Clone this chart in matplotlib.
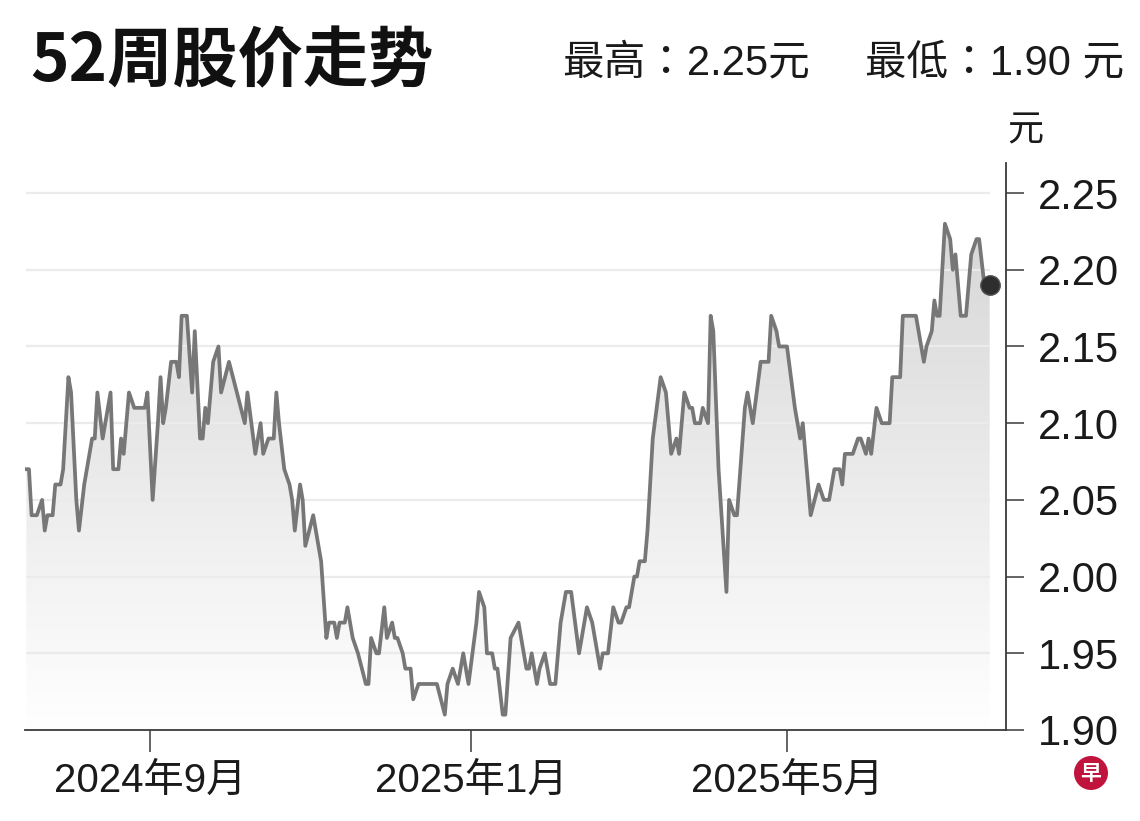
import numpy as np
import pandas as pd
import matplotlib
matplotlib.use("Agg")
import matplotlib.pyplot as plt
import matplotlib.dates as mdates
from matplotlib import font_manager
from matplotlib.colors import LinearSegmentedColormap
from matplotlib.patches import PathPatch, Ellipse

# 52-week closing prices
dates = [
    "2024-07-16", "2024-07-17", "2024-07-18", "2024-07-20", "2024-07-22", "2024-07-23", "2024-07-24", "2024-07-26",
    "2024-07-27", "2024-07-29", "2024-07-30", "2024-08-01", "2024-08-02", "2024-08-04", "2024-08-05", "2024-08-07",
    "2024-08-08", "2024-08-10", "2024-08-11", "2024-08-12", "2024-08-14", "2024-08-15", "2024-08-17", "2024-08-18",
    "2024-08-20", "2024-08-21", "2024-08-22", "2024-08-24", "2024-08-26", "2024-08-30", "2024-08-31", "2024-09-02",
    "2024-09-04", "2024-09-05", "2024-09-06", "2024-09-07", "2024-09-09", "2024-09-11", "2024-09-12", "2024-09-13",
    "2024-09-15", "2024-09-17", "2024-09-18", "2024-09-20", "2024-09-21", "2024-09-22", "2024-09-23", "2024-09-25",
    "2024-09-27", "2024-09-28", "2024-10-01", "2024-10-04", "2024-10-07", "2024-10-08", "2024-10-11", "2024-10-13",
    "2024-10-14", "2024-10-16", "2024-10-18", "2024-10-19", "2024-10-20", "2024-10-22", "2024-10-24", "2024-10-25",
    "2024-10-26", "2024-10-28", "2024-10-29", "2024-10-30", "2024-11-02", "2024-11-04", "2024-11-05", "2024-11-07",
    "2024-11-08", "2024-11-10", "2024-11-11", "2024-11-12", "2024-11-14", "2024-11-15", "2024-11-17", "2024-11-19",
    "2024-11-22", "2024-11-23", "2024-11-24", "2024-11-26", "2024-11-27", "2024-11-29", "2024-11-30", "2024-12-02",
    "2024-12-03", "2024-12-04", "2024-12-06", "2024-12-07", "2024-12-09", "2024-12-10", "2024-12-12", "2024-12-19",
    "2024-12-22", "2024-12-23", "2024-12-25", "2024-12-27", "2024-12-29", "2024-12-31", "2025-01-03", "2025-01-04",
    "2025-01-06", "2025-01-07", "2025-01-09", "2025-01-10", "2025-01-11", "2025-01-13", "2025-01-14", "2025-01-16",
    "2025-01-19", "2025-01-20", "2025-01-22", "2025-01-23", "2025-01-24", "2025-01-26", "2025-01-27", "2025-01-29",
    "2025-01-31", "2025-02-02", "2025-02-04", "2025-02-06", "2025-02-08", "2025-02-11", "2025-02-14", "2025-02-16",
    "2025-02-19", "2025-02-20", "2025-02-22", "2025-02-24", "2025-02-26", "2025-02-27", "2025-03-01", "2025-03-02",
    "2025-03-04", "2025-03-05", "2025-03-06", "2025-03-08", "2025-03-09", "2025-03-11", "2025-03-14", "2025-03-16",
    "2025-03-18", "2025-03-20", "2025-03-21", "2025-03-23", "2025-03-25", "2025-03-26", "2025-03-27", "2025-03-29",
    "2025-03-30", "2025-04-01", "2025-04-02", "2025-04-03", "2025-04-05", "2025-04-08", "2025-04-09", "2025-04-11",
    "2025-04-12", "2025-04-15", "2025-04-16", "2025-04-18", "2025-04-21", "2025-04-24", "2025-04-25", "2025-04-27",
    "2025-04-28", "2025-05-01", "2025-05-04", "2025-05-06", "2025-05-07", "2025-05-10", "2025-05-13", "2025-05-15",
    "2025-05-17", "2025-05-19", "2025-05-21", "2025-05-22", "2025-05-23", "2025-05-26", "2025-05-28", "2025-05-29",
    "2025-05-31", "2025-06-01", "2025-06-02", "2025-06-04", "2025-06-06", "2025-06-09", "2025-06-10", "2025-06-13",
    "2025-06-14", "2025-06-19", "2025-06-20", "2025-06-22", "2025-06-23", "2025-06-25", "2025-06-26", "2025-06-27",
    "2025-06-28", "2025-06-30", "2025-07-02", "2025-07-03", "2025-07-04", "2025-07-06", "2025-07-08", "2025-07-10",
    "2025-07-12", "2025-07-13", "2025-07-15", "2025-07-17",
]
prices = [
    2.07, 2.07, 2.04, 2.04, 2.05, 2.03, 2.04, 2.04, 2.06, 2.06, 2.07, 2.13, 2.12, 2.05, 2.03, 2.06,
    2.07, 2.09, 2.09, 2.12, 2.09, 2.10, 2.12, 2.07, 2.07, 2.09, 2.08, 2.12, 2.11, 2.11, 2.12, 2.05,
    2.10, 2.13, 2.10, 2.11, 2.14, 2.14, 2.13, 2.17, 2.17, 2.12, 2.16, 2.09, 2.09, 2.11, 2.10, 2.14,
    2.15, 2.12, 2.14, 2.12, 2.10, 2.12, 2.08, 2.10, 2.08, 2.09, 2.09, 2.12, 2.10, 2.07, 2.06, 2.05,
    2.03, 2.06, 2.05, 2.02, 2.04, 2.02, 2.01, 1.96, 1.97, 1.97, 1.96, 1.97, 1.97, 1.98, 1.96, 1.95,
    1.93, 1.93, 1.96, 1.95, 1.95, 1.98, 1.96, 1.97, 1.96, 1.96, 1.95, 1.94, 1.94, 1.92, 1.93, 1.93,
    1.91, 1.93, 1.94, 1.93, 1.95, 1.93, 1.97, 1.99, 1.98, 1.95, 1.95, 1.94, 1.94, 1.91, 1.91, 1.96,
    1.97, 1.96, 1.94, 1.94, 1.95, 1.93, 1.94, 1.95, 1.93, 1.93, 1.97, 1.99, 1.99, 1.95, 1.98, 1.97,
    1.94, 1.95, 1.95, 1.98, 1.97, 1.97, 1.98, 1.98, 2.00, 2.00, 2.01, 2.01, 2.03, 2.09, 2.13, 2.12,
    2.08, 2.09, 2.08, 2.12, 2.11, 2.11, 2.10, 2.10, 2.11, 2.10, 2.17, 2.16, 2.07, 1.99, 2.05, 2.04,
    2.04, 2.11, 2.12, 2.10, 2.14, 2.14, 2.17, 2.16, 2.15, 2.15, 2.11, 2.09, 2.10, 2.04, 2.06, 2.05,
    2.05, 2.07, 2.07, 2.06, 2.08, 2.08, 2.09, 2.09, 2.08, 2.09, 2.08, 2.11, 2.10, 2.10, 2.13, 2.13,
    2.17, 2.17, 2.16, 2.14, 2.15, 2.16, 2.18, 2.17, 2.17, 2.23, 2.22, 2.20, 2.21, 2.17, 2.17, 2.21,
    2.22, 2.22, 2.19, 2.19,
]
y_ticks = [1.90, 1.95, 2.00, 2.05, 2.10, 2.15, 2.20, 2.25]
x_tick_dates = ["2024-09-01", "2025-01-01", "2025-05-01"]
x_tick_labels = ["2024年9月", "2025年1月", "2025年5月"]
title = "52周股价走势"
high_text = "最高：2.25元"
low_text = "最低：1.90 元"

names = {f.name for f in font_manager.fontManager.ttflist}
num_font = "Liberation Sans Narrow" if "Liberation Sans Narrow" in names else "Liberation Sans"
cjk = "Noto Sans CJK SC"
plt.rcParams["font.family"] = [num_font, cjk, "DejaVu Sans"]

d = pd.to_datetime(dates)
x = mdates.date2num(d)
p = np.array(prices)

W, H = 1140, 821
fig = plt.figure(figsize=(W / 100, H / 100), dpi=100)
ax = fig.add_axes([25 / W, 91 / H, (1006 - 25) / W, (730 - 163) / H])

ymin, ymax = 1.90, 2.2696
xmin = mdates.date2num(pd.Timestamp("2024-07-15 12:00"))
xmax = mdates.date2num(pd.Timestamp("2025-07-23 05:00"))

# gradient fill under the line
poly = ax.fill_between(x, p, ymin, color="none", lw=0)
clip = PathPatch(poly.get_paths()[0], transform=ax.transData, facecolor="none", edgecolor="none")
ax.add_patch(clip)
cmap = LinearSegmentedColormap.from_list("g", ["#ffffff", "#d2d2d2"])
grad = np.linspace(1, 0, 256).reshape(-1, 1) * np.ones((1, 2))
im = ax.imshow(grad, extent=[xmin, xmax, ymin, ymax], aspect="auto", cmap=cmap,
               vmin=0, vmax=1, origin="upper", zorder=1)
im.set_clip_path(clip)

ax.hlines(y_ticks[1:], x[0], x[-1], colors="#ebebeb", lw=1.6, zorder=2)
ax.plot(x, p, color="#777777", lw=2.7, solid_joinstyle="round", zorder=3)
ax.plot(x[-1], p[-1], "o", ms=14, color="#2e2e2e", mec="#555555", mew=1, zorder=4)

ax.set_xlim(xmin, xmax)
ax.set_ylim(ymin, ymax)

for s in ["left", "top"]:
    ax.spines[s].set_visible(False)
for s in ["right", "bottom"]:
    ax.spines[s].set_color("#3a3a3a")
    ax.spines[s].set_linewidth(1.3)

ax.yaxis.tick_right()
ax.set_yticks(y_ticks)
ax.set_yticklabels([f"{v:.2f}" for v in y_ticks])
ax.tick_params(axis="y", direction="out", length=13, width=1.1, color="#3a3a3a",
               pad=10, labelsize=30, labelcolor="#1a1a1a")
ax.set_xticks(mdates.date2num(pd.to_datetime(x_tick_dates)))
ax.set_xticklabels(x_tick_labels)
ax.tick_params(axis="x", direction="out", length=16, width=1.1, color="#3a3a3a",
               pad=7, labelsize=29, labelcolor="#1a1a1a")

fig.text(30 / W, 1 - 62 / H, title, fontsize=47, fontweight="bold", family=[cjk],
         ha="left", va="center", color="#111111")
sub_font = [num_font, "Noto Sans CJK TC"]
fig.text(562 / W, 1 - 63 / H, high_text, fontsize=30, family=sub_font,
         ha="left", va="center", color="#1a1a1a")
fig.text(865 / W, 1 - 63 / H, low_text, fontsize=30, family=sub_font,
         ha="left", va="center", color="#1a1a1a")
fig.text(1025 / W, 1 - 130 / H, "元", fontsize=26, family=[cjk], ha="center", va="center", color="#1a1a1a")

# small logo
fig.add_artist(Ellipse((1091 / W, 1 - 773 / H), 34 / W, 34 / H, transform=fig.transFigure,
                       facecolor="#c0143c", edgecolor="none"))
fig.text(1091 / W, 1 - 773 / H, "早", fontsize=15, fontweight="bold", family=[cjk],
         color="white", ha="center", va="center")

fig.savefig("out.png", dpi=100)
